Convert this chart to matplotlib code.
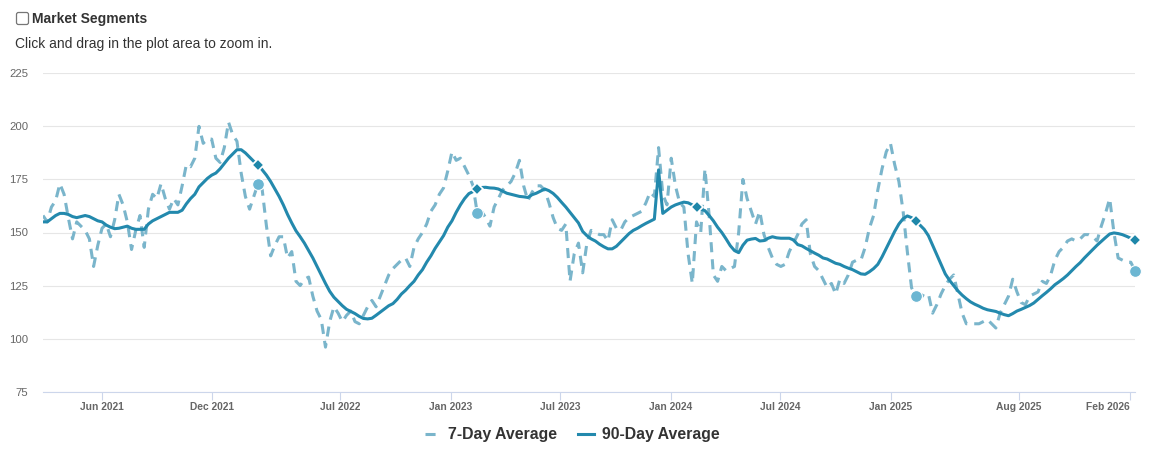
import pandas as pd
import matplotlib
matplotlib.use('Agg')
import matplotlib.pyplot as plt
from matplotlib.patches import FancyBboxPatch
from matplotlib.lines import Line2D
from matplotlib.transforms import IdentityTransform

# weekly readings, first week starting 2021-02-23
start_date = '2021-02-23'

seven_day = [
    158, 155, 162, 165, 173, 168, 157, 147, 155, 153, 151, 147, 134,
    144, 152, 154, 148, 156, 168, 163, 155, 142, 151, 158, 143, 161,
    168, 166, 173, 166, 161, 166, 163, 172, 182, 181, 185, 200, 192,
    194, 194, 185, 183, 190, 202, 196, 193, 178, 167, 161, 167, 173,
    170, 153, 139, 144, 148, 148, 138, 141, 127, 125, 128, 129, 120,
    113, 109, 96, 108, 115, 112, 108, 111, 113, 108, 107, 111, 115,
    118, 115, 120, 125, 130, 133, 135, 137, 138, 134, 143, 147, 150,
    154, 160, 163, 168, 171, 179, 188, 184, 185, 181, 177, 172, 159,
    160, 157, 153, 162, 166, 170, 172, 174, 178, 184, 172, 165, 169,
    172, 172, 170, 164, 157, 152, 151, 154, 127, 140, 145, 131, 145,
    151, 150, 149, 149, 146, 156, 152, 151, 155, 157, 158, 159, 160,
    164, 169, 167, 190, 168, 163, 185, 172, 164, 162, 140, 126, 155,
    150, 180, 158, 130, 127, 134, 132, 133, 134, 150, 175, 166, 160,
    154, 160, 149, 143, 138, 135, 134, 135, 141, 145, 149, 154, 156,
    140, 134, 132, 128, 124, 126, 121, 128, 126, 130, 136, 137, 137,
    143, 152, 158, 170, 180, 188, 192, 182, 174, 160, 141, 124, 120,
    121, 120, 121, 112, 116, 121, 125, 128, 130, 121, 112, 107, 107,
    107, 107, 108, 109, 107, 105, 112, 116, 120, 128, 122, 117, 116,
    120, 121, 122, 127, 126, 130, 137, 141, 143, 146, 147, 146, 147,
    149, 149, 148, 146, 153, 159, 166, 150, 138, 137, 136, 136, 132,
]

ninety_day = [
    155, 155, 156.5, 158, 159, 159, 158.5, 157.5, 157, 157.5, 158, 157.5, 156.5,
    155.5, 155, 153.5, 152.5, 151.8, 152, 152.5, 153, 152, 151.5, 151.5, 151.5, 154,
    155.5, 156.5, 157.5, 158.5, 159.5, 159.5, 159.5, 160.5, 163.5, 166, 168, 171.5, 173.5,
    175.5, 177, 178, 180, 182.5, 185, 187, 189, 189, 187.5, 185.5, 183.5, 182,
    179.5, 177, 174, 170.5, 167, 163, 158.5, 154.5, 150.8, 148, 145, 141.5, 138,
    134, 130, 126, 122.3, 119.5, 117.5, 115.5, 113.8, 112.8, 111.8, 110.5, 109.5, 109.3,
    109.6, 111, 112.5, 114, 115.5, 116.5, 118.5, 121, 122.8, 125, 127, 130, 132.5,
    136, 139, 142.5, 145.5, 148.5, 152.5, 155.5, 159.5, 163, 166, 168.3, 169.3, 170.5,
    171.2, 171.3, 171, 170.9, 170.5, 169.5, 168.5, 168, 167.5, 167, 166.8, 166.5, 167.8,
    168.5, 169.5, 170.5, 169.7, 168.4, 166.5, 164.2, 162, 159.5, 157, 154.5, 150.5, 148.5,
    147, 146, 144.5, 143.3, 142.3, 142.3, 143.5, 145.5, 147.5, 149.5, 151, 152, 153.2,
    154.3, 155.3, 156.3, 179.5, 159, 160.5, 162, 163, 163.7, 164.3, 164, 163, 162,
    161, 160.3, 158, 155.5, 152.5, 150, 147, 143.8, 141.5, 140.5, 144, 146.4, 146.9,
    147.2, 146, 146.2, 147.3, 148, 147.5, 147.3, 147.3, 147.3, 146.5, 144.3, 143.7, 142.5,
    141.4, 140.3, 139.3, 138, 137.5, 136.5, 135.5, 135, 134, 133.2, 132.5, 131.5, 130.5,
    130.3, 131.5, 133, 135, 138.5, 142.5, 146.5, 150.5, 154, 156.5, 157.8, 157, 155.5,
    153.5, 151.5, 148.5, 144, 139.5, 135, 130.5, 127.5, 125, 122.5, 120.5, 118.8, 117.3,
    116.2, 115.3, 114.3, 113.6, 113.2, 112.8, 112, 111.3, 110.8, 111.8, 113, 113.8, 114.7,
    115.6, 116.8, 118.5, 120.2, 121.8, 123.5, 125.4, 126.8, 128.3, 130, 132, 134, 135.8,
    138, 140, 142, 144, 145.8, 147.6, 149.3, 149.8, 149.5, 149, 148.2, 147.3, 146.5,
]

# yearly highlighted points
diamond_idx = [51, 103, 155, 207, 259]
circle_idx = [51, 103, 207, 259]

tick_dates = ['2021-06-01', '2021-12-01', '2022-07-01', '2023-01-01', '2023-07-01',
              '2024-01-01', '2024-07-01', '2025-01-01', '2025-08-01', '2026-02-01']
tick_labels = ['Jun 2021', 'Dec 2021', 'Jul 2022', 'Jan 2023', 'Jul 2023',
               'Jan 2024', 'Jul 2024', 'Jan 2025', 'Aug 2025', 'Feb 2026']
y_ticks = [75, 100, 125, 150, 175, 200, 225]

dates = pd.date_range(start_date, periods=len(seven_day), freq='7D')
s7 = pd.Series(seven_day, index=dates)
s90 = pd.Series(ninety_day, index=dates)

plt.rcParams['font.family'] = ['Liberation Sans', 'DejaVu Sans']

c7 = '#7ab5cb'
c90 = '#2389ad'

W, H = 1159, 457
fig = plt.figure(figsize=(W / 100, H / 100), dpi=100)
ax = fig.add_axes([43 / W, 1 - 391.7 / H, (1135 - 43) / W, (391.7 - 73.3) / H])

ax.plot(s7.index, s7.values, color=c7, lw=2.2, dashes=(3.3, 2.3), zorder=3)
ax.plot(s90.index, s90.values, color=c90, lw=2.2, zorder=4)
ax.plot(s7.index[circle_idx], s7.values[circle_idx], 'o', ms=8.5, color='#6cb6d2',
        mec='white', mew=0.8, zorder=5, clip_on=False)
ax.plot(s90.index[diamond_idx], s90.values[diamond_idx], 'D', ms=6.5, color='#1e87a9',
        mec='white', mew=1.2, zorder=6, clip_on=False)

ax.set_xlim(dates[0], dates[-1])
ax.set_ylim(75, 225)
ax.set_yticks(y_ticks)
ax.yaxis.grid(True, color='#e6e6e6', lw=0.8)
ax.set_axisbelow(True)
for side in ['top', 'left', 'right']:
    ax.spines[side].set_visible(False)
ax.spines['bottom'].set_color('#ccd6eb')
ax.spines['bottom'].set_linewidth(0.8)

ax.tick_params(axis='y', length=0, pad=10.8, labelsize=8.2, labelcolor='#666666')
ax.set_xticks(pd.to_datetime(tick_dates))
ax.set_xticklabels(tick_labels, fontweight='bold')
ax.tick_params(axis='x', length=5.8, width=0.8, color='#ccd6eb', pad=1.5,
               labelsize=7.4, labelcolor='#666666')
ax.get_xticklabels()[-1].set_ha('right')

# header
box = FancyBboxPatch((16.5, H - 24.5), 12, 12, boxstyle='round,pad=0,rounding_size=2',
                     fc='white', ec='#767676', lw=0.9, transform=IdentityTransform())
fig.patches.append(box)
fig.text(32 / W, 1 - 19 / H, 'Market Segments', fontsize=10, fontweight='bold',
         color='#333333', va='center')
fig.text(15 / W, 1 - 44 / H, 'Click and drag in the plot area to zoom in.',
         fontsize=10, color='#333333', va='center')

handles = [Line2D([], [], color=c7, lw=2.2, dashes=(3.3, 2.3)),
           Line2D([], [], color=c90, lw=2.2)]
fig.legend(handles, ['7-Day Average', '90-Day Average'], loc='center',
           bbox_to_anchor=(572 / W, 1 - 435 / H), ncol=2, frameon=False,
           prop={'size': 11.4, 'weight': 'bold'}, labelcolor='#333333',
           handlelength=1.0, handletextpad=0.5, columnspacing=1.3)

fig.savefig('out.png', dpi=100)
